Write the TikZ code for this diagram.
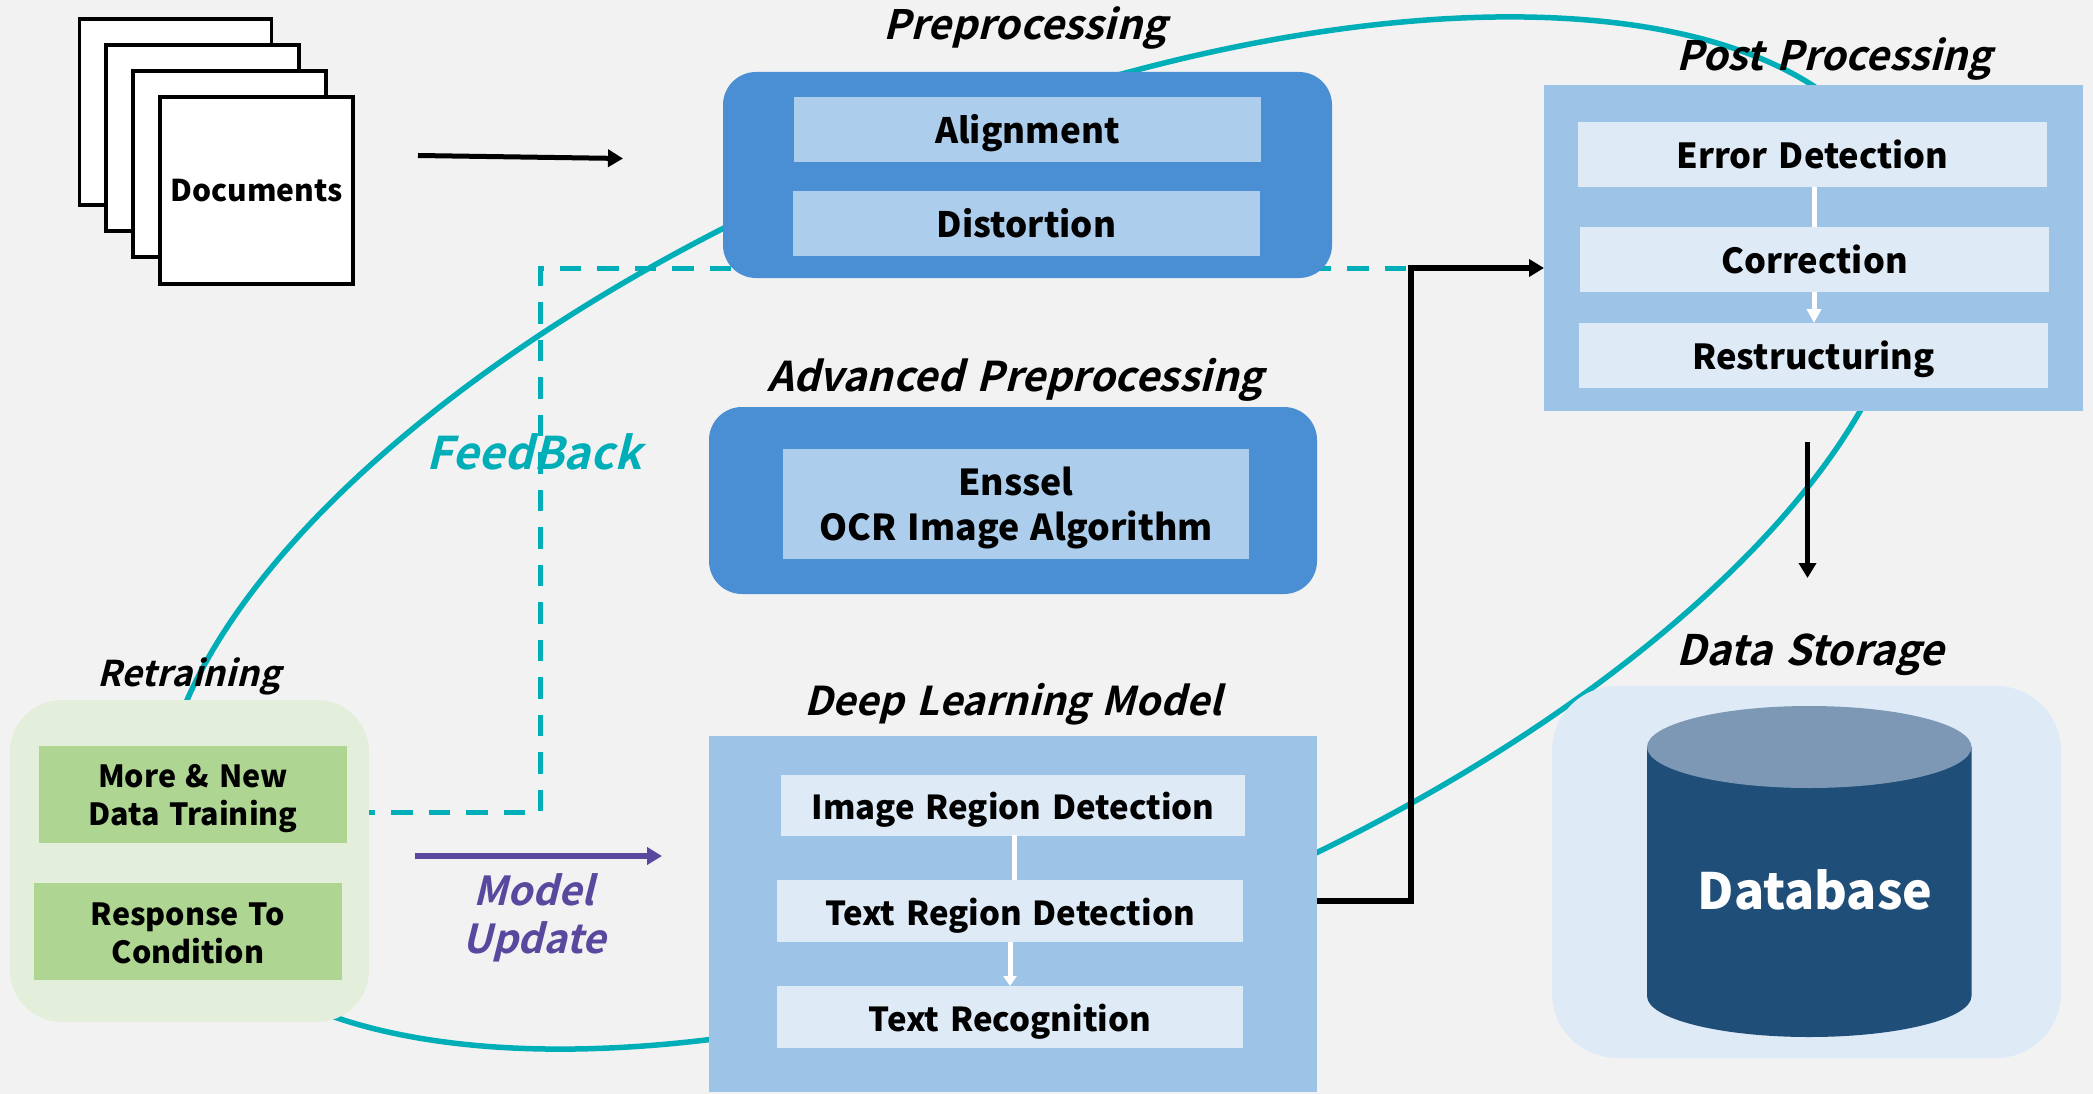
\documentclass[tikz,border=0pt]{standalone}
\usepackage{fontspec}
\usetikzlibrary{arrows.meta}
\setmainfont{Noto Sans CJK KR}[WordSpace=1.4]
\newfontface\slantface{Noto Sans CJK KR Bold}[FakeSlant=0.25,WordSpace=1.4]
\newcommand{\sz}[2]{\fontsize{#1}{#2}\selectfont\bfseries}
\newcommand{\slz}[2]{\slantface\fontsize{#1}{#2}\selectfont}
\definecolor{pagegray}{HTML}{F2F2F2}
\definecolor{loopteal}{HTML}{00AEB8}
\definecolor{darkblue}{HTML}{4A8FD3}
\definecolor{midblue}{HTML}{ACCDEC}
\definecolor{softblue}{HTML}{9DC3E6}
\definecolor{paleblue}{HTML}{DEEAF6}
\definecolor{palegreen}{HTML}{E3EFDA}
\definecolor{leafgreen}{HTML}{AED591}
\definecolor{modelpurple}{HTML}{5A489F}
\definecolor{dbdark}{HTML}{1F4E79}
\definecolor{dbtop}{HTML}{7C98B4}
\tikzset{
  x=1pt,y=-1pt,
  every node/.style={inner sep=0pt,outer sep=0pt,align=center},
  sheet/.style={draw=black,fill=white,line width=3.5pt},
  outerround/.style={fill=darkblue,rounded corners=33pt},
  outersquare/.style={fill=softblue},
  oneline/.style={text height=36pt,text depth=8pt},
  innermid/.style={fill=midblue,text=black,font=\sz{35}{45}},
  innerpale/.style={fill=paleblue,text=black,font=\sz{34.5}{42},oneline},
  innerdeep/.style={innerpale,font=\sz{33}{42}},
  innergreen/.style={fill=leafgreen,text=black,font=\sz{30.5}{37.5},text depth=8pt},
  heading/.style={text=black,font=\slz{40.5}{48}},
  blackarrow/.style={line width=5.5pt,-{Triangle[length=15pt,width=17pt]}},
  whitelink/.style={white,line width=5pt},
  feedline/.style={loopteal,line width=5pt,dash pattern=on 21.5pt off 16pt,dash phase=15.5pt}
}
\begin{document}
\begin{tikzpicture}
   \useasboundingbox (0,0) rectangle (2093,1094);
   \fill[pagegray] (0,0) rectangle (2093,1094);
   % loop behind the boxes
   \draw[loopteal,line width=5.5pt,rotate around={22.3:(1035,533)}] (1035,533) ellipse [x radius=929.7,y radius=407.2];
   % documents
   \node[sheet,minimum width=192pt,minimum height=186pt] (sheeta) at (175.5,112) {};
   \node[sheet,minimum width=193pt,minimum height=186pt] (sheetb) at (202.5,138) {};
   \node[sheet,minimum width=193pt,minimum height=186pt] (sheetc) at (229.5,164) {};
   \node[sheet,minimum width=193pt,minimum height=187pt,font=\sz{30}{37}] (sheetd) at (256.5,190.5) {Documents};
   \coordinate (docstart) at (418,155.5);
   \coordinate (docend) at (623,158.5);
   \draw[blackarrow,line width=5pt] (docstart) -- (docend);
   % retraining
   \node[fill=palegreen,rounded corners=52pt,minimum width=359pt,minimum height=322pt] (retrain) at (189.5,861) {};
   \node[innergreen,text height=69pt,minimum width=308pt,minimum height=97pt] (morenew) at (193,794.5) {More \& New\\Data Training};
   \node[innergreen,text height=71pt,minimum width=308pt,minimum height=97pt] (response) at (188,931.5) {Response To\\Condition};
   \node[heading,font=\slz{35.5}{42}] (rettitle) at (189,676) {Retraining};
   % feedback line
   \coordinate (feedcorner) at (540,812);
   \coordinate (feedtop) at (540,268);
   \coordinate (feedend) at (1510,268);
   \draw[feedline] (retrain.east |- feedcorner) -- (feedcorner) -- (feedtop) -- (feedend);
   % preprocessing
   \node[outerround,minimum width=609pt,minimum height=206pt] (prebox) at (1027.5,175) {};
   \node[innermid,oneline,minimum width=467pt,minimum height=65pt] (align) at (1027.5,129.5) {Alignment};
   \node[innermid,oneline,minimum width=467pt,minimum height=65pt] (distort) at (1026.5,223.5) {Distortion};
   \node[heading] (pretitle) at (1025,28) {Preprocessing};
   % advanced
   \node[outerround,minimum width=608pt,minimum height=187pt] (advbox) at (1013,500.5) {};
   \node[innermid,font=\sz{35.7}{45},text height=81pt,text depth=8pt,minimum width=466pt,minimum height=110pt] (enssel) at (1016,503.5) {Enssel\\OCR Image Algorithm};
   \node[heading,font=\slz{41}{48}] (advtitle) at (1015,380) {Advanced Preprocessing};
   % deep learning
   \node[outersquare,minimum width=608pt,minimum height=356pt] (deep) at (1013,913.5) {};
   \node[innerdeep,minimum width=464pt,minimum height=61pt] (imgreg) at (1013,805) {Image Region Detection};
   \node[innerdeep,minimum width=466pt,minimum height=62pt] (txtreg) at (1010,911) {Text Region Detection};
   \node[innerdeep,minimum width=466pt,minimum height=62pt] (txtrec) at (1010,1017) {Text Recognition};
   \node[heading,font=\slz{39.7}{48}] (deeptitle) at (1013,704) {Deep Learning Model};
   \draw[whitelink] (1014,835) -- (1014,880);
   \draw[whitelink,-{Triangle[length=10pt,width=13pt]}] (txtreg.south) -- (txtrec.north);
   % post processing
   \node[outersquare,minimum width=539pt,minimum height=326pt] (post) at (1813.5,248) {};
   \node[innerpale,minimum width=469pt,minimum height=65pt] (errdet) at (1812.5,154.5) {Error Detection};
   \node[innerpale,minimum width=469pt,minimum height=65pt] (correct) at (1814.5,259.5) {Correction};
   \node[innerpale,minimum width=469pt,minimum height=65pt] (restruct) at (1813.5,355.5) {Restructuring};
   \node[heading] (posttitle) at (1834,59) {Post Processing};
   \draw[whitelink] (1814,187) -- (1814,227);
   \draw[whitelink,-{Triangle[length=14pt,width=14pt]}] (1814,292) -- (1814,323);
   % data storage
   \node[fill=paleblue,rounded corners=65pt,minimum width=509pt,minimum height=372pt] (store) at (1806.5,872) {};
   \fill[dbdark] (1647,747) -- (1647,996) arc[start angle=180,end angle=360,x radius=162.25,y radius=-41] -- (1971.5,747) -- cycle;
   \fill[dbtop] (1809.25,747) ellipse [x radius=162.25,y radius=41];
   \node[text=white,font=\sz{50}{60}] (dbname) at (1815,890) {Database};
   \node[heading,font=\slz{42}{48}] (storetitle) at (1810,655) {Data Storage};
   % connectors
   \coordinate (deepout) at (1317,901);
   \coordinate (turnlow) at (1411,901);
   \coordinate (turnhigh) at (1411,268);
   \coordinate (postin) at (1544,268);
   \draw[blackarrow] (deepout) -- (turnlow) -- (turnhigh) -- (postin);
   \coordinate (dbstart) at (1807.5,442);
   \coordinate (dbend) at (1807.5,578);
   \draw[blackarrow] (dbstart) -- (dbend);
   \coordinate (modelstart) at (415,856);
   \coordinate (modelend) at (662,856);
   \draw[blackarrow,modelpurple] (modelstart) -- (modelend);
   \node[text=modelpurple,font=\slz{40}{48}] (modelupd) at (534,918) {Model\\Update};
   \node[text=loopteal,font=\slz{45}{56}] (feedlabel) at (534,452) {FeedBack};
  \end{tikzpicture}
\end{document}
